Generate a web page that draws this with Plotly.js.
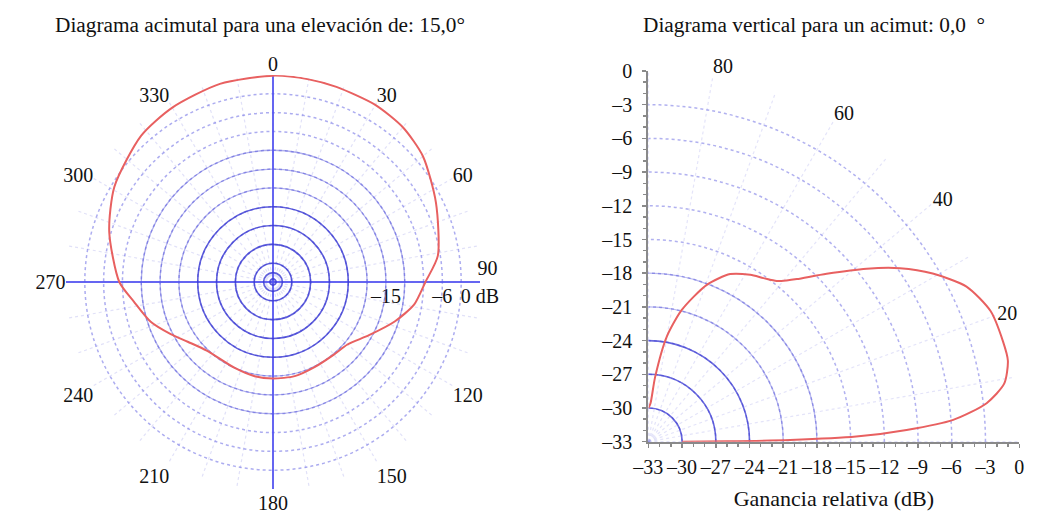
<!DOCTYPE html>
<html>
<head>
<meta charset="utf-8">
<script src="https://cdn.plot.ly/plotly-3.0.1.min.js"></script>
<style>
  html, body { margin: 0; padding: 0; background: #ffffff; }
  #chart { width: 1048px; height: 519px; }
</style>
</head>
<body>
<div id="chart"></div>
<script>
// ---- Left: azimuth pattern (elevation 15.0°) ----
const azAngles = [0, 10, 18, 30, 40, 50, 64, 81, 90, 99, 108, 119, 130, 140, 154, 167, 180, 191, 204, 224, 235, 243, 252, 262, 270, 287, 301, 318, 330, 345, 360];
const azGain   = [-0.1, -0.2, -0.3, -0.4, -0.8, -1.8, -4.1, -6.4, -8.7, -10.2, -12.6, -15.5, -17.5, -17.9, -17.9, -17.6, -17.6, -17.7, -18.0, -17.8, -16.4, -14.7, -12.5, -10.6, -8.5, -5.7, -3.5, -1.6, -0.9, -0.3, -0.1];

// ---- Right: vertical pattern (azimuth 0.0°) ----
const elAngles = [0, 0.3, 0.7, 1.4, 2.6, 4.1, 6.5, 9.3, 12.7, 15.8, 20.9, 26, 30.6, 34.6, 38.4, 43.3, 47.6, 49.4, 51.4, 54.9, 58.6, 64, 69.6, 75.8, 80.1, 84.1, 87, 90];
const elGain   = [-30, -26, -20.4, -14.5, -10.0, -5.8, -2.7, -0.9, -0.2, -0.2, -0.4, -1.5, -3.6, -5.8, -8.2, -11.2, -13.4, -14.1, -14.7, -15.2, -15.6, -16.4, -18.1, -20.9, -23.5, -27.2, -29.6, -30];

// ---- Axis ticks / labels ----
const dbTicks = [-33, -30, -27, -24, -21, -18, -15, -12, -9, -6, -3, 0];
const dbTickLabels = ['\u201333', '\u201330', '\u201327', '\u201324', '\u201321', '\u201318', '\u201315', '\u201312', '\u20139', '\u20136', '\u20133', '0'];
const azRadialLabels = ['', '', '', '', '', '', '\u201315', '', '', '\u20136', '', '0 dB'];
const azTicks = [0, 10, 20, 30, 40, 50, 60, 70, 80, 90, 100, 110, 120, 130, 140, 150, 160, 170, 180, 190, 200, 210, 220, 230, 240, 250, 260, 270, 280, 290, 300, 310, 320, 330, 340, 350];
const azTickLabels = azTicks.map(v => (v % 30 === 0 && v !== 90 ? String(v) : ''));
const azEastTick = [90];
const azEastLabel = ['90'];
const elTicks = [0, 10, 20, 30, 40, 50, 60, 70, 80, 90];
const elTickLabels = ['', '', '20', '', '40', '', '60', '', '80', ''];
const innerSolid = [-32.5, -31.5, -30, -27, -24, -21];
const midSolid = [-18, -15, -12];
const crossTicks = [0, 90, 180, 270];
const rightInner = [-30, -27, -24];
const rightMid = [-21, -18];

const titleLeft = 'Diagrama acimutal para una elevación de: 15,0°';
const titleRight = 'Diagrama vertical para un acimut: 0,0 \u00a0°';
const xTitle = 'Ganancia relativa (dB)';

const FONT = "'Liberation Serif', 'DejaVu Serif', serif";
const RED = 'rgb(232,96,96)';

const leftDom = {x: [66/1048, 480/1048], y: [1 - 489/519, 1 - 75/519]};
const leftDomUp = {x: [63/1048, 477/1048], y: [1 - 475/519, 1 - 61/519]};
const rightDom = {x: [648.3/1048, 1019.3/1048], y: [1 - 441.7/519, 1 - 71/519]};

function hiddenRadial(vals, color, dash, width) {
  return {range: [-33, 0], tickvals: vals, showticklabels: false, ticks: '', showline: false,
          gridcolor: color, griddash: dash, gridwidth: width};
}
function hiddenAngular(vals, color, dash, width, dir, rot) {
  return {tickvals: vals, showticklabels: false, ticks: '', showline: false,
          gridcolor: color, griddash: dash, gridwidth: width, direction: dir, rotation: rot};
}
function emptyPolar(sp) {
  return {type: 'scatterpolar', subplot: sp, r: [], theta: [], mode: 'lines', showlegend: false, hoverinfo: 'skip'};
}

const traces = [
  {type: 'scatter', x: [], y: [], xaxis: 'x', yaxis: 'y', showlegend: false, hoverinfo: 'skip'},
  emptyPolar('polar'), emptyPolar('polar2'), emptyPolar('polar4'), emptyPolar('polar5'), emptyPolar('polar7'),
  {type: 'scatterpolar', subplot: 'polar3', theta: azAngles, r: azGain, mode: 'lines',
   line: {color: RED, width: 2, shape: 'spline', smoothing: 0.7}, showlegend: false},
  {type: 'scatterpolar', subplot: 'polar6', theta: elAngles, r: elGain, mode: 'lines',
   line: {color: RED, width: 2, shape: 'spline', smoothing: 0.7}, showlegend: false}
];

const layout = {
  width: 1048, height: 519,
  margin: {l: 0, r: 0, t: 0, b: 0},
  paper_bgcolor: '#ffffff', plot_bgcolor: 'rgba(0,0,0,0)',
  showlegend: false,
  font: {family: FONT, size: 20, color: '#111'},
  polar: {
    domain: leftDom, bgcolor: '#ffffff',
    radialaxis: {range: [-33, 0], tickvals: dbTicks, ticktext: azRadialLabels, angle: 0, side: 'clockwise',
                 showline: false, ticks: '', gridcolor: 'rgba(90,90,225,0.5)', griddash: 'dot', gridwidth: 1.5,
                 tickfont: {family: FONT, size: 20, color: '#111'}},
    angularaxis: {tickvals: azTicks, ticktext: azTickLabels, direction: 'clockwise', rotation: 90,
                  showline: false, ticks: '', gridcolor: 'rgba(120,120,225,0.22)', griddash: 'dot', gridwidth: 1.2,
                  tickfont: {family: FONT, size: 20, color: '#111'}}
  },
  polar2: {
    domain: leftDom, bgcolor: 'rgba(0,0,0,0)',
    radialaxis: hiddenRadial(midSolid, 'rgba(80,80,215,0.45)', 'solid', 1.3),
    angularaxis: hiddenAngular([], 'rgba(0,0,0,0)', 'solid', 1, 'clockwise', 90)
  },
  polar3: {
    domain: leftDom, bgcolor: 'rgba(0,0,0,0)',
    radialaxis: hiddenRadial(innerSolid, 'rgba(55,55,210,0.8)', 'solid', 1.6),
    angularaxis: hiddenAngular(crossTicks, 'rgba(85,85,240,0.9)', 'solid', 2, 'clockwise', 90)
  },
  // label-only layer, raised, carrying the "90" tick label
  polar7: {
    domain: leftDomUp, bgcolor: 'rgba(0,0,0,0)',
    radialaxis: {range: [-33, 0], visible: false, showgrid: false},
    angularaxis: {tickvals: azEastTick, ticktext: azEastLabel, direction: 'clockwise', rotation: 90,
                  showline: false, ticks: '', showgrid: false, tickfont: {family: FONT, size: 20, color: '#111'}}
  },
  polar4: {
    domain: rightDom, bgcolor: 'rgba(0,0,0,0)', sector: [0, 90],
    radialaxis: {range: [-33, 0], tickvals: dbTicks, showticklabels: false, ticks: '', showline: false,
                 gridcolor: 'rgba(100,100,225,0.5)', griddash: 'dot', gridwidth: 1.5},
    angularaxis: {tickvals: elTicks, ticktext: elTickLabels, direction: 'counterclockwise', rotation: 0,
                  showline: false, ticks: '', gridcolor: 'rgba(120,120,225,0.2)', griddash: 'dot', gridwidth: 1.2,
                  tickfont: {family: FONT, size: 20, color: '#111'}}
  },
  polar5: {
    domain: rightDom, bgcolor: 'rgba(0,0,0,0)', sector: [0, 90],
    radialaxis: hiddenRadial(rightMid, 'rgba(80,80,215,0.4)', 'solid', 1.3),
    angularaxis: hiddenAngular([], 'rgba(0,0,0,0)', 'solid', 1, 'counterclockwise', 0)
  },
  polar6: {
    domain: rightDom, bgcolor: 'rgba(0,0,0,0)', sector: [0, 90],
    radialaxis: hiddenRadial(rightInner, 'rgba(55,55,210,0.75)', 'solid', 1.6),
    angularaxis: hiddenAngular([], 'rgba(0,0,0,0)', 'solid', 1, 'counterclockwise', 0)
  },
  xaxis: {
    domain: rightDom.x, anchor: 'y', range: [-33, 0], tickmode: 'array', tickvals: dbTicks, ticktext: dbTickLabels,
    showgrid: false, zeroline: false, showline: true, linecolor: '#8a8a8a', linewidth: 2,
    ticks: 'outside', ticklen: 4, tickcolor: '#8a8a8a', tickwidth: 1.5, ticklabelstandoff: 2,
    minor: {tickmode: 'linear', tick0: -33, dtick: 1, ticks: 'outside', ticklen: 3, tickcolor: '#8a8a8a', showgrid: false},
    tickfont: {family: FONT, size: 20, color: '#111'},
    title: {text: xTitle, font: {family: FONT, size: 22, color: '#111'}, standoff: 14}
  },
  yaxis: {
    domain: rightDom.y, anchor: 'x', range: [-33, 0], tickmode: 'array', tickvals: dbTicks, ticktext: dbTickLabels,
    showgrid: false, zeroline: false, showline: true, linecolor: '#8a8a8a', linewidth: 2,
    ticks: 'outside', ticklen: 4, tickcolor: '#8a8a8a', tickwidth: 1.5, ticklabelstandoff: 6,
    minor: {tickmode: 'linear', tick0: -33, dtick: 1, ticks: 'outside', ticklen: 3, tickcolor: '#8a8a8a', showgrid: false},
    tickfont: {family: FONT, size: 20, color: '#111'}
  },
  annotations: [
    {text: titleLeft, xref: 'paper', yref: 'paper', x: 260/1048, y: 1 - 25/519, xanchor: 'center', yanchor: 'middle',
     showarrow: false, font: {family: FONT, size: 21.3, color: '#111'}},
    {text: titleRight, xref: 'paper', yref: 'paper', x: 814/1048, y: 1 - 25/519, xanchor: 'center', yanchor: 'middle',
     showarrow: false, font: {family: FONT, size: 21.3, color: '#111'}}
  ]
};

Plotly.newPlot('chart', traces, layout, {displayModeBar: false, staticPlot: true});
</script>
</body>
</html>
